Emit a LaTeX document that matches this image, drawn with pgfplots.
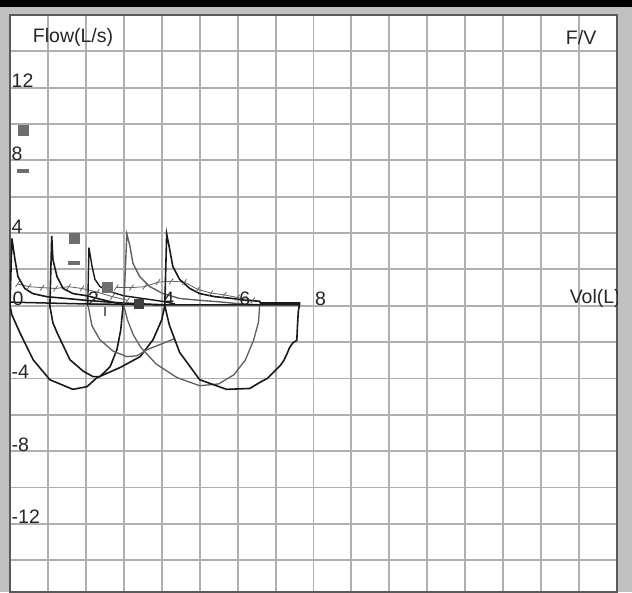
\documentclass[border=0pt]{standalone}
\usepackage{pgfplots}
\pgfplotsset{compat=1.18}
\usepackage{fontspec}
\setmainfont{Liberation Sans}
\definecolor{bg}{RGB}{192,192,192}
\definecolor{gridc}{RGB}{175,175,175}
\definecolor{dk}{RGB}{25,25,25}
\definecolor{lt}{RGB}{95,95,95}
\definecolor{mk}{RGB}{110,110,110}
\tikzset{lbl/.style={font=\fontsize{19.5}{23}\selectfont, text=black!85, inner sep=0pt}}
\begin{document}
\begin{tikzpicture}
\useasboundingbox (0,0) rectangle (632pt,592pt);
\fill[bg] (0,0) rectangle (632pt,592pt);
\fill[black] (0,585pt) rectangle (632pt,592pt);
\begin{axis}[
  at={(10pt,0pt)}, anchor=south west,
  width=607pt, height=577pt, scale only axis,
  xmin=0, xmax=16, ymin=-15.75, ymax=16,
  xtick={1,...,15}, ytick={-14,-12,...,14},
  xticklabels={}, yticklabels={},
  major tick length=0pt,
  grid=major, grid style={gridc, line width=1.9pt},
  axis line style={black!65, line width=2pt},
  axis background/.style={fill=white},
]
% hatched tidal-like lines
\addplot[lt, line width=0.8pt, mark=|, mark size=3.5pt, mark options={rotate=-35, solid, line width=0.8pt}] coordinates {(0.2,1.2)(0.5,1.05)(0.85,1.0)(1.2,0.95)(1.55,1.05)(1.9,0.95)(2.3,0.75)(2.7,0.5)(3.1,0.3)};
\addplot[lt, line width=0.8pt, mark=|, mark size=3.5pt, mark options={rotate=-35, solid, line width=0.8pt}] coordinates {(2.8,1.0)(3.2,1.0)(3.55,1.05)(3.9,1.3)(4.25,1.35)(4.6,1.3)(4.95,0.9)(5.3,0.7)(5.65,0.6)(6.0,0.45)(6.4,0.3)};
% expiration curves
\addplot[dk, line width=1.6pt] coordinates {(0,0)(0.05,3.7)(0.13,2.56)(0.21,1.6)(0.39,0.95)(0.6,0.67)(0.97,0.5)(1.5,0.4)(2.0,0.3)(2.5,0.22)(3.0,0.15)(3.5,0.1)(4.08,0.05)};
\addplot[dk, line width=1.6pt] coordinates {(1.05,-0.1)(1.1,3.85)(1.13,2.56)(1.24,1.6)(1.4,0.95)(1.66,0.67)(2.03,0.55)(2.4,0.35)(2.7,0.2)(2.98,0.05)};
\addplot[dk, line width=1.4pt] coordinates {(2.05,0)(2.08,3.2)(2.16,2.2)(2.24,1.45)(2.37,1.06)(2.6,0.8)(3.0,0.55)(3.5,0.4)(4.0,0.25)(4.35,0.1)};
\addplot[lt, line width=1.4pt] coordinates {(3.0,0)(3.08,3.95)(3.16,3.3)(3.24,2.34)(3.42,1.6)(3.68,1.06)(4.03,0.67)(4.47,0.4)(5.0,0.3)(5.5,0.22)(6.0,0.12)(6.58,0.05)};
\addplot[dk, line width=1.6pt] coordinates {(4.08,0)(4.13,3.95)(4.21,3.1)(4.29,2.17)(4.47,1.45)(4.74,0.95)(5.0,0.67)(5.4,0.5)(5.87,0.4)(6.2,0.3)(6.58,0.25)(6.6,0.15)(7.0,0.15)(7.63,0.15)(7.63,0.05)};
% baseline
\addplot[dk, line width=1.5pt] coordinates {(0,0.2)(2,0.1)(4,0.05)(7.63,0.05)};
% inspiration curves
\addplot[dk, line width=1.6pt] coordinates {(0,0)(0.05,-0.5)(0.26,-1.48)(0.61,-2.97)(1.05,-4.07)(1.66,-4.6)(2.03,-4.45)(2.29,-3.96)(2.9,-3.4)(3.43,-2.8)(3.77,-1.87)(4.0,-0.77)(4.08,0)};
\addplot[dk, line width=1.6pt] coordinates {(1.05,0)(1.13,-0.93)(1.24,-1.48)(1.58,-2.97)(1.93,-3.6)(2.19,-3.9)(2.37,-3.9)(2.64,-3.35)(2.82,-2.4)(2.92,-1.32)(2.98,0)};
\addplot[lt, line width=1.3pt] coordinates {(2.06,0)(2.16,-1.1)(2.37,-1.87)(2.72,-2.5)(3.08,-2.8)(3.35,-2.75)(3.61,-2.42)(4.35,-1.8)};
\addplot[lt, line width=1.3pt] coordinates {(3.0,0)(3.1,-0.8)(3.25,-1.6)(3.45,-2.3)(3.85,-3.2)(4.4,-3.95)(5.0,-4.4)(5.5,-4.3)(5.9,-3.8)(6.2,-3.0)(6.42,-1.9)(6.55,-0.9)(6.58,0)};
\addplot[dk, line width=1.6pt] coordinates {(4.08,0)(4.2,-1.06)(4.47,-2.56)(5.0,-4.07)(5.71,-4.6)(6.32,-4.55)(6.6,-4.2)(6.78,-4.0)(7.0,-3.55)(7.12,-3.3)(7.22,-3.0)(7.3,-2.65)(7.37,-2.3)(7.45,-2.05)(7.56,-1.9)(7.58,-1.0)(7.6,-0.3)(7.63,0.05)};
% predicted markers
\addplot[only marks, mark=square*, mark size=5pt, mk, mark options={fill=mk, draw=mk}] coordinates {(0.34,9.67)(1.69,3.74)(2.56,1.04)};
\addplot[only marks, mark=square*, mark size=4.5pt, mark options={fill=black!75, draw=black!75}] coordinates {(3.4,0.1)};
\addplot[only marks, mark=square*, mark size=5.5pt, mark options={fill=mk, draw=mk, yscale=0.22}] coordinates {(0.34,7.43)(1.69,2.36)};
\addplot[only marks, mark=square*, mark size=4pt, mark options={fill=mk, draw=mk, xscale=0.2}] coordinates {(2.5,-0.3)};
% labels
\node[lbl, anchor=base west, xshift=1.5pt] at (axis cs:0,12) {12};
\node[lbl, anchor=base west, xshift=1.5pt] at (axis cs:0,8) {8};
\node[lbl, anchor=base west, xshift=1.5pt] at (axis cs:0,4) {4};
\node[lbl, anchor=base west, xshift=1.5pt] at (axis cs:0,-4) {-4};
\node[lbl, anchor=base west, xshift=1.5pt] at (axis cs:0,-8) {-8};
\node[lbl, anchor=base west, xshift=1.5pt] at (axis cs:0,-12) {-12};
\node[lbl, anchor=base west, xshift=2.5pt] at (axis cs:0,0) {0};
\node[lbl, anchor=base west, xshift=2pt] at (axis cs:2,0) {2};
\node[lbl, anchor=base west, xshift=1.5pt] at (axis cs:4,0) {4};
\node[lbl, anchor=base west, xshift=1.5pt] at (axis cs:6,0) {6};
\node[lbl, anchor=base west, xshift=1.5pt] at (axis cs:8,0) {8};
\node[lbl, anchor=west] at (axis cs:0.6,14.75) {Flow(L/s)};
\node[lbl, anchor=west] at (axis cs:14.65,14.75) {F/V};
\node[lbl, anchor=base west] at (axis cs:14.75,0.1) {Vol(L)};
\end{axis}
\fill[bg] (618pt,0) rectangle (632pt,585pt);
\end{tikzpicture}
\end{document}
